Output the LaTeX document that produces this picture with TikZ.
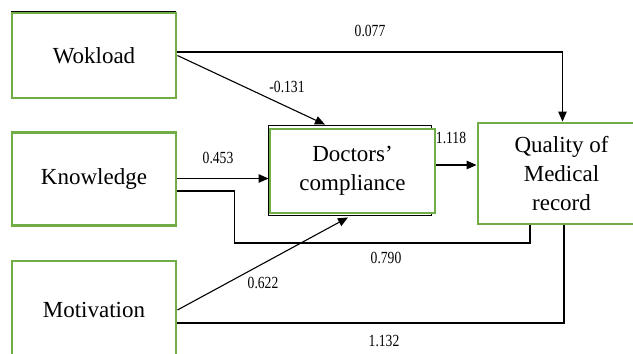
\documentclass[tikz,border=0pt]{standalone}
\usepackage{fontspec}
\setmainfont{Liberation Serif}
\usetikzlibrary{arrows.meta}
\definecolor{boxgreen}{RGB}{112,173,71}
\tikzset{
  box/.style={draw=boxgreen, line width=2.9pt, fill=white, align=center, inner sep=0pt,
    font=\fontsize{23}{29}\selectfont},
  shadowbox/.style={draw=black, line width=1pt},
  link/.style={draw=black, line width=1.1pt},
  arr/.style={link, -{Triangle[length=10pt,width=8.5pt]}},
  lab/.style={font=\fontsize{17}{18}\selectfont, xscale=0.8, inner sep=0pt}
}
\begin{document}
\begin{tikzpicture}[x=1pt,y=-1pt]
\clip (0,0) rectangle (633,354);
\fill[white] (0,0) rectangle (633,354);
% shadows
\draw[shadowbox] (11,11.5) rectangle (175,97.5);
\draw[shadowbox] (268,125) rectangle (431,215);
% boxes
\node[box, minimum width=164pt, minimum height=85pt] (W) at (94,55.5) {Wokload};
\node[box, minimum width=164pt, minimum height=93pt] (K) at (94,179) {Knowledge};
\node[box, minimum width=164pt, minimum height=98pt] (M) at (94,310) {Motivation};
\node[box, minimum width=165pt, minimum height=84pt] (D) at (352.5,171) {Doctors’\\compliance};
\node[box, minimum width=167pt, minimum height=101pt] (Q) at (561.5,173.5) {Quality of\\Medical\\record};
% connectors
\draw[arr] ([yshift=3.5pt]W.east) -| ([xshift=1pt]Q.north);
\draw[arr] (W.east) -- ([xshift=-27.5pt,yshift=3pt]D.north);
\draw[arr] ([yshift=0.5pt]K.east) -- ([yshift=0.5pt]K.east -| D.west);
\draw[link] ([yshift=-12pt]K.east) -| ++(57pt,-52pt) -| ([xshift=-31.5pt]Q.south);
\draw[link] ([yshift=-13pt]M.east) -| ([xshift=2.5pt]Q.south);
\draw[arr] (M.east) -- ([xshift=-4.5pt,yshift=-3pt]D.south);
\draw[arr] ([yshift=6pt]D.east) -- ([yshift=6pt]D.east -| Q.west);
% labels
\node[lab] (l077) at (370,31) {0.077};
\node[lab] (l131) at (287,87) {-0.131};
\node[lab] (l453) at (218,158) {0.453};
\node[lab] (l118) at (451,138) {1.118};
\node[lab] (l790) at (386,258) {0.790};
\node[lab] (l622) at (263,283) {0.622};
\node[lab] (l132) at (384,341) {1.132};
\end{tikzpicture}
\end{document}
